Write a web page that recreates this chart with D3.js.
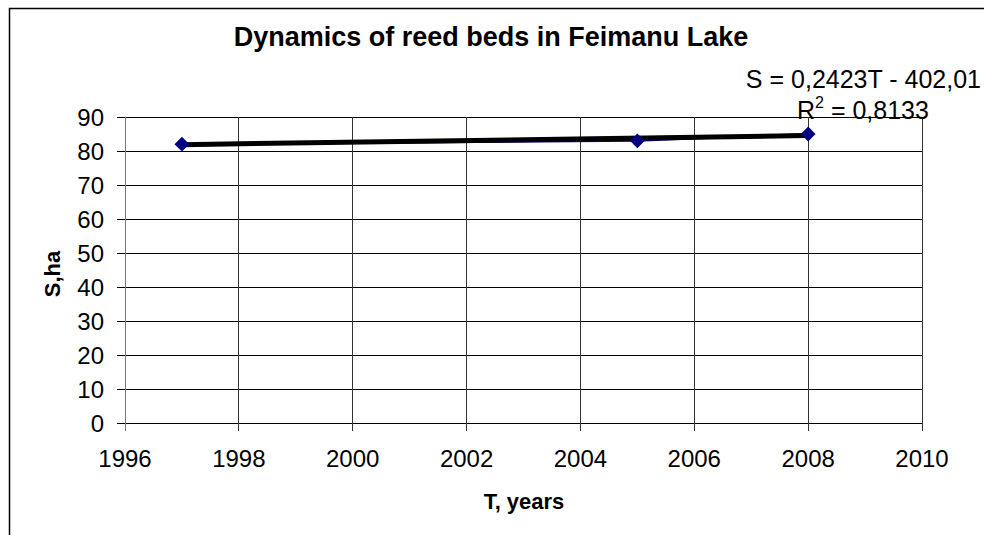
<!DOCTYPE html>
<html>
<head>
<meta charset="utf-8">
<script src="https://cdn.jsdelivr.net/npm/d3@7"></script>
<style>
  body { margin: 0; background: #fff; }
  svg { display: block; font-family: Arial, "Liberation Sans", sans-serif; }
</style>
</head>
<body>
<div id="chart"></div>
<script>
// data
const years = [1997, 2005, 2008]
const area = [82, 83, 85]
const xTicks = [1996, 1998, 2000, 2002, 2004, 2006, 2008, 2010]
const yTicks = [0, 10, 20, 30, 40, 50, 60, 70, 80, 90]
const trendSlope = 0.2423
const trendIntercept = -402.01

const W = 984, H = 535
const svg = d3.select('#chart').append('svg')
  .attr('width', W).attr('height', H)

// chart frame
svg.append('rect')
  .attr('x', 9.5).attr('y', 8.5)
  .attr('width', W + 20).attr('height', H + 20)
  .attr('fill', 'none').attr('stroke', '#000').attr('stroke-width', 1.5)

const x = d3.scaleLinear().domain([1996, 2010]).range([125, 922])
const y = d3.scaleLinear().domain([0, 90]).range([423, 117])

// gridlines
svg.append('g').selectAll('line')
  .data(yTicks).enter().append('line')
  .attr('x1', 117).attr('x2', x(2010))
  .attr('y1', d => y(d)).attr('y2', d => y(d))
  .attr('stroke', '#000').attr('stroke-width', 1)
  .attr('shape-rendering', 'crispEdges')

svg.append('g').selectAll('line')
  .data(xTicks).enter().append('line')
  .attr('x1', d => x(d)).attr('x2', d => x(d))
  .attr('y1', y(90)).attr('y2', y(0) + 8)
  .attr('stroke', d => d == 1996 ? '#777' : '#333').attr('stroke-width', 1)
  .attr('shape-rendering', 'crispEdges')

// tick labels
svg.append('g').selectAll('text')
  .data(yTicks).enter().append('text')
  .attr('x', 104).attr('y', d => y(d) + 8.5)
  .attr('text-anchor', 'end').attr('font-size', 24)
  .text(d => d)

svg.append('g').selectAll('text')
  .data(xTicks).enter().append('text')
  .attr('x', d => x(d)).attr('y', 467)
  .attr('text-anchor', 'middle').attr('font-size', 24)
  .text(d => d)

// series line + markers
const line = d3.line().x((d, i) => x(years[i])).y(d => y(d))
svg.append('path')
  .attr('d', line(area))
  .attr('fill', 'none').attr('stroke', '#000080').attr('stroke-width', 2)

// linear trendline
const tr = [1997, 2008]
svg.append('path')
  .attr('d', d3.line().x(d => x(d)).y(d => y(trendSlope * d + trendIntercept))(tr))
  .attr('fill', 'none').attr('stroke', '#000').attr('stroke-width', 5)

svg.append('g').selectAll('path')
  .data(area).enter().append('path')
  .attr('d', d3.symbol(d3.symbolSquare, 110)())
  .attr('transform', (d, i) => `translate(${x(years[i])},${y(d)}) rotate(45)`)
  .attr('fill', '#000080')

// titles
svg.append('text')
  .attr('x', 491).attr('y', 46)
  .attr('text-anchor', 'middle').attr('font-size', 27).attr('font-weight', 'bold')
  .text('Dynamics of reed beds in Feimanu Lake')

svg.append('text')
  .attr('x', 524).attr('y', 509)
  .attr('text-anchor', 'middle').attr('font-size', 22).attr('font-weight', 'bold')
  .text('T, years')

svg.append('text')
  .attr('transform', 'translate(60,274) rotate(-90)')
  .attr('text-anchor', 'middle').attr('font-size', 22).attr('font-weight', 'bold')
  .text('S,ha')

// trendline equation
svg.append('text')
  .attr('x', 981).attr('y', 88)
  .attr('text-anchor', 'end').attr('font-size', 25)
  .text('S = 0,2423T - 402,01')

const r2 = svg.append('text')
  .attr('x', 797).attr('y', 119).attr('font-size', 25)
r2.append('tspan').text('R')
r2.append('tspan').attr('dy', -11).attr('font-size', 16).text('2')
r2.append('tspan').attr('dy', 11).text(' = 0,8133')
</script>
</body>
</html>
